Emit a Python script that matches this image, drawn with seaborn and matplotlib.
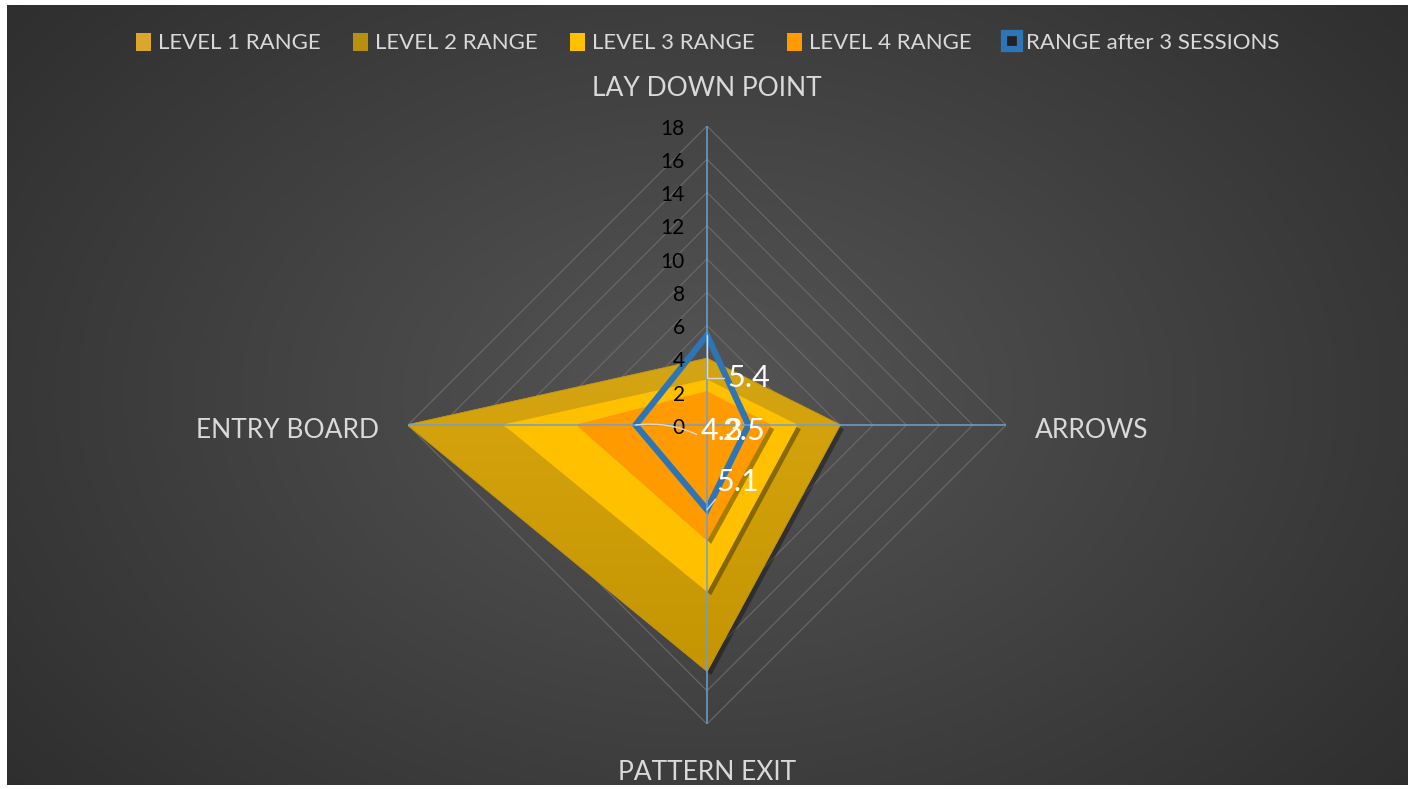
import numpy as np
import pandas as pd
import matplotlib
matplotlib.use("Agg")
import matplotlib.pyplot as plt
import matplotlib.patheffects as pe
from matplotlib.colors import LinearSegmentedColormap
from matplotlib.image import AxesImage
from matplotlib.patches import Patch
from matplotlib.lines import Line2D
import seaborn as sns

# Data
categories = ["LAY DOWN POINT", "ARROWS", "PATTERN EXIT", "ENTRY BOARD"]
level1 = [4, 8, 14.8, 18]
level2 = [4, 8, 14.8, 18]
level3 = [2.7, 5.4, 10, 12.2]
level4 = [2, 3.8, 6.9, 7.8]
sessions = [5.4, 2.5, 5.1, 4.3]
r_ticks = [0, 2, 4, 6, 8, 10, 12, 14, 16, 18]

sns.set_theme(style="dark")
plt.rcParams["font.family"] = ["Lato", "DejaVu Sans"]

text_col = "#d9d9d9"
gold1, gold2, yellow, orange, blue = "#d9a72c", "#b8900e", "#ffc000", "#ff9a00", "#2e75b6"

fig = plt.figure(figsize=(14.15, 7.89), dpi=100, facecolor="white")

# dark radial background
bg = fig.add_axes([7 / 1415, 4 / 789, 1401 / 1415, 780 / 789], zorder=0)
yy, xx = np.mgrid[-1:1:400j, -1:1:700j]
dist = np.sqrt(xx ** 2 + (yy * 0.8) ** 2)
bg_cmap = LinearSegmentedColormap.from_list("bg", ["#555555", "#2e2e2e"])
bg.imshow(dist, cmap=bg_cmap, aspect="auto", vmin=0, vmax=1.3)
bg.set_axis_off()

ax = fig.add_axes([408 / 1415, 65 / 789, 598 / 1415, 598 / 789], polar=True, zorder=1)
ax.set_facecolor("none")
ax.set_theta_zero_location("N")
ax.set_theta_direction(-1)

theta = np.linspace(0, 2 * np.pi, len(categories), endpoint=False)
theta_c = np.append(theta, theta[0])


def closed(vals):
    return np.append(vals, vals[0])


# diamond grid
for r in r_ticks[1:]:
    ax.plot(theta_c, [r] * len(theta_c), color="#6a6a6a", lw=0.8, zorder=1)

shadow = [pe.SimplePatchShadow(offset=(3, -3), shadow_rgbFace="black", alpha=0.35), pe.Normal()]

poly1 = ax.fill(theta_c, closed(level1), color=gold1, zorder=2, path_effects=shadow)[0]
poly2 = ax.fill(theta_c, closed(level2), color=gold2, zorder=2.05)[0]

# gradient on the outer gold shape (light at top, darker at bottom)
grad_cmap = LinearSegmentedColormap.from_list("gold", ["#dcab38", "#d3a20c", "#c29300"])
grad = AxesImage(ax, cmap=grad_cmap, extent=(0, 1, 0, 1), transform=ax.transAxes,
                 zorder=2.1, interpolation="bilinear")
grad.set_data(np.linspace(0, 1, 256).reshape(-1, 1))
ax.add_image(grad)
grad.set_clip_path(poly2)

ax.fill(theta_c, closed(level3), color=yellow, zorder=3, path_effects=shadow)
ax.fill(theta_c, closed(level4), color=orange, zorder=4, path_effects=shadow)

df = pd.DataFrame({"theta": theta_c, "value": closed(sessions)})
ax.plot(df["theta"], df["value"], color=blue, lw=4.5, solid_joinstyle="miter", zorder=5)

# spokes
for t in theta:
    ax.plot([t, t], [0, r_ticks[-1]], color="#6b9fd4", lw=1.1, zorder=6)

ax.set_ylim(0, r_ticks[-1])
ax.set_yticks([])
ax.set_xticks(theta)
ax.set_xticklabels([])
ax.grid(False)
ax.spines["polar"].set_visible(False)
ax.set_xlabel("")
ax.set_ylabel("")

# category labels
cat_off = [((0, 27), "center"), ((21, -4), "left"), ((0, -35), "center"), ((-21, -4), "right")]
for t, name, (off, ha) in zip(theta, categories, cat_off):
    ax.annotate(name, xy=(t, r_ticks[-1]), xytext=off, textcoords="offset points",
                ha=ha, va="center", fontsize=19, color=text_col, annotation_clip=False)

for t in r_ticks:
    ax.annotate(str(t), xy=(0, t), xytext=(-16, -2), textcoords="offset points",
                ha="right", va="center", fontsize=15, color="black", zorder=7)

# data labels
lab_kw = dict(textcoords="offset points", ha="center", va="center", fontsize=22,
              color="white", zorder=8)
line_kw = dict(arrowstyle="-", color="#d9d9d9", lw=1, shrinkA=0, shrinkB=0)
ax.annotate(f"{sessions[0]}", xy=(theta[0], sessions[0]), xytext=(30, -31),
            arrowprops=dict(line_kw, connectionstyle="angle,angleA=0,angleB=90,rad=0", relpos=(0, 0.5)),
            **lab_kw)
ax.annotate(f"{sessions[1]}", xy=(theta[1], sessions[1]), xytext=(-3, -4), **lab_kw)
ax.annotate(f"{sessions[2]}", xy=(theta[2], sessions[2]), xytext=(22, 20),
            arrowprops=dict(line_kw, relpos=(0.1, 0.1)), **lab_kw)
ax.annotate(f"{sessions[3]}", xy=(theta[3], sessions[3]), xytext=(62, -4),
            arrowprops=dict(line_kw, connectionstyle="arc3,rad=0.15", relpos=(0, 0.3)), **lab_kw)

handles = [
    Patch(facecolor=gold1, edgecolor="none", label="LEVEL 1 RANGE"),
    Patch(facecolor=gold2, edgecolor="none", label="LEVEL 2 RANGE"),
    Patch(facecolor=yellow, edgecolor="none", label="LEVEL 3 RANGE"),
    Patch(facecolor=orange, edgecolor="none", label="LEVEL 4 RANGE"),
    Line2D([], [], marker="s", markersize=12, markerfacecolor="#222222",
           markeredgecolor=blue, markeredgewidth=4.5, linestyle="none", label="RANGE after 3 SESSIONS"),
]
fig.legend(handles=handles, loc="center", bbox_to_anchor=(0.5, 1 - 43 / 789), ncol=5,
           frameon=False, fontsize=16, labelcolor=text_col, handlelength=0.7, handleheight=0.9,
           handletextpad=0.3, columnspacing=1.45)

fig.savefig("out.png", dpi=100, facecolor=fig.get_facecolor())
